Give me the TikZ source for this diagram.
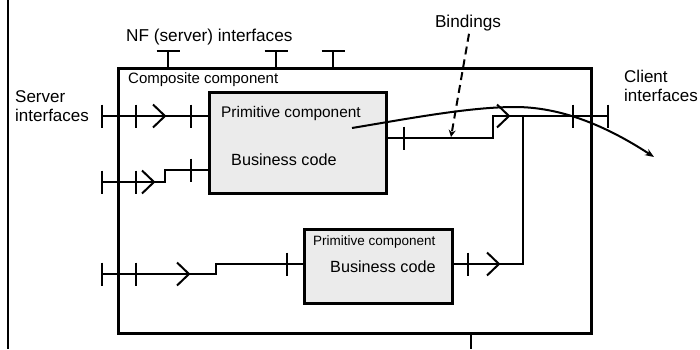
\documentclass[tikz,border=0pt]{standalone}
\usepackage{fontspec}
\setmainfont{Liberation Sans}
\usetikzlibrary{arrows.meta}

\tikzset{
  frame/.style={draw, line width=3pt, inner sep=0pt, outer sep=0pt, anchor=north west},
  primbox/.style={frame, fill=black!8},
  wire/.style={line width=2pt},
  lbl/.style={inner sep=0pt, anchor=base west},
  ifbar/.pic={\draw[wire] (0,-11.5) -- (0,11.5);},
  chev/.pic={\draw[wire, line join=miter] (-12,-11.5) -- (0,0) -- (-12,11.5);},
  nfport/.pic={\draw[wire] (-11.5,0) -- (11.5,0); \draw[wire] (0,0) -- (0,17);}
}

\begin{document}
\begin{tikzpicture}[x=1pt, y=-1pt]
\useasboundingbox (0,0) rectangle (700,349);

% left edge rule
\draw[line width=2pt] (8,0) -- (8,349);

% components
\node[frame, minimum width=473pt, minimum height=265pt] (comp) at (118,68) {};
\node[primbox, minimum width=177pt, minimum height=101pt] (p1) at (209,92) {};
\node[primbox, minimum width=148pt, minimum height=74pt] (p2) at (304,229) {};

% labels
\node[lbl, font=\fontsize{15}{18}\selectfont] (complbl) at (128,83) {Composite component};
\node[lbl, font=\fontsize{15.4}{18}\selectfont] (p1lbl) at (221,117) {Primitive component};
\node[lbl, font=\fontsize{16.2}{19}\selectfont] (p1code) at (231,165) {Business code};
\node[lbl, font=\fontsize{13.5}{16}\selectfont] (p2lbl) at (313,245) {Primitive component};
\node[lbl, font=\fontsize{16.2}{19}\selectfont] (p2code) at (330,272) {Business code};
\node[lbl, font=\fontsize{17.2}{20}\selectfont] (nflbl) at (126,41) {NF (server) interfaces};
\node[lbl, font=\fontsize{17}{19}\selectfont, align=left] (srvlbl) at (15,121)
  {Server\\interfaces};
\node[lbl, font=\fontsize{17}{19}\selectfont, align=left] (clilbl) at (624,101)
  {Client\\interfaces};
\node[inner sep=0pt, anchor=base, font=\fontsize{17.2}{20}\selectfont] (bind) at (468,27) {Bindings};

% NF (server) interfaces on the top edge
\foreach \x in {168,276,333} \pic at (\x,51) {nfport};

% bottom stub
\coordinate (stub) at (471,349);
\draw[wire] (comp.south -| stub) -- (stub);

% server interface 1
\coordinate (s1) at (102,116);
\draw[wire] (s1) -- (s1 -| p1.west);
\pic at (s1) {ifbar};
\pic at (136,116) {ifbar};
\pic at (165,116) {chev};
\pic at (191,116) {ifbar};

% server interface 2
\coordinate (s2) at (102,182);
\coordinate (s2k) at (165,170);
\draw[wire] (s2) -- (s2 -| s2k) -- (s2k) -- (s2k -| p1.west);
\pic at (s2) {ifbar};
\pic at (136,182) {ifbar};
\pic at (154,182) {chev};
\pic at (191,170) {ifbar};

% server interface 3
\coordinate (s3) at (102,274);
\coordinate (s3k) at (216,264);
\draw[wire] (s3) -- (s3 -| s3k) -- (s3k) -- (s3k -| p2.west);
\pic at (s3) {ifbar};
\pic at (136,274) {ifbar};
\pic at (189,274) {chev};
\pic at (287,264) {ifbar};

% client side: primitive 1 to outer client interface
\coordinate (c1) at (608,116);
\coordinate (c1k) at (493,138);
\draw[wire] (c1k -| p1.east) -- (c1k) -- (c1k |- c1) -- (c1);
\pic at (404,138) {ifbar};
\pic at (509,116) {chev};
\pic at (573,116) {ifbar};
\pic at (c1) {ifbar};

% client side: primitive 2 joins the same binding
\coordinate (c2k) at (523,264);
\draw[wire] (c2k -| p2.east) -- (c2k) -- (c2k |- c1);
\pic at (468,264) {ifbar};
\pic at (499,264) {chev};

% outgoing call path
\coordinate (callstart) at (352,128);
\coordinate (callend) at (654,157);
\draw[wire, -{Stealth[length=9pt, width=7pt]}] (callstart)
  .. controls (412,118) and (470,107) .. (515,107)
  .. controls (560,107) and (605,125) .. (callend);

% bindings pointer
\coordinate (bindtip) at (451,137);
\draw[wire, dash pattern=on 8pt off 5pt, -{Stealth[length=7pt, width=7pt]}] (bind.south) ++(1,3) -- (bindtip);
\end{tikzpicture}
\end{document}
